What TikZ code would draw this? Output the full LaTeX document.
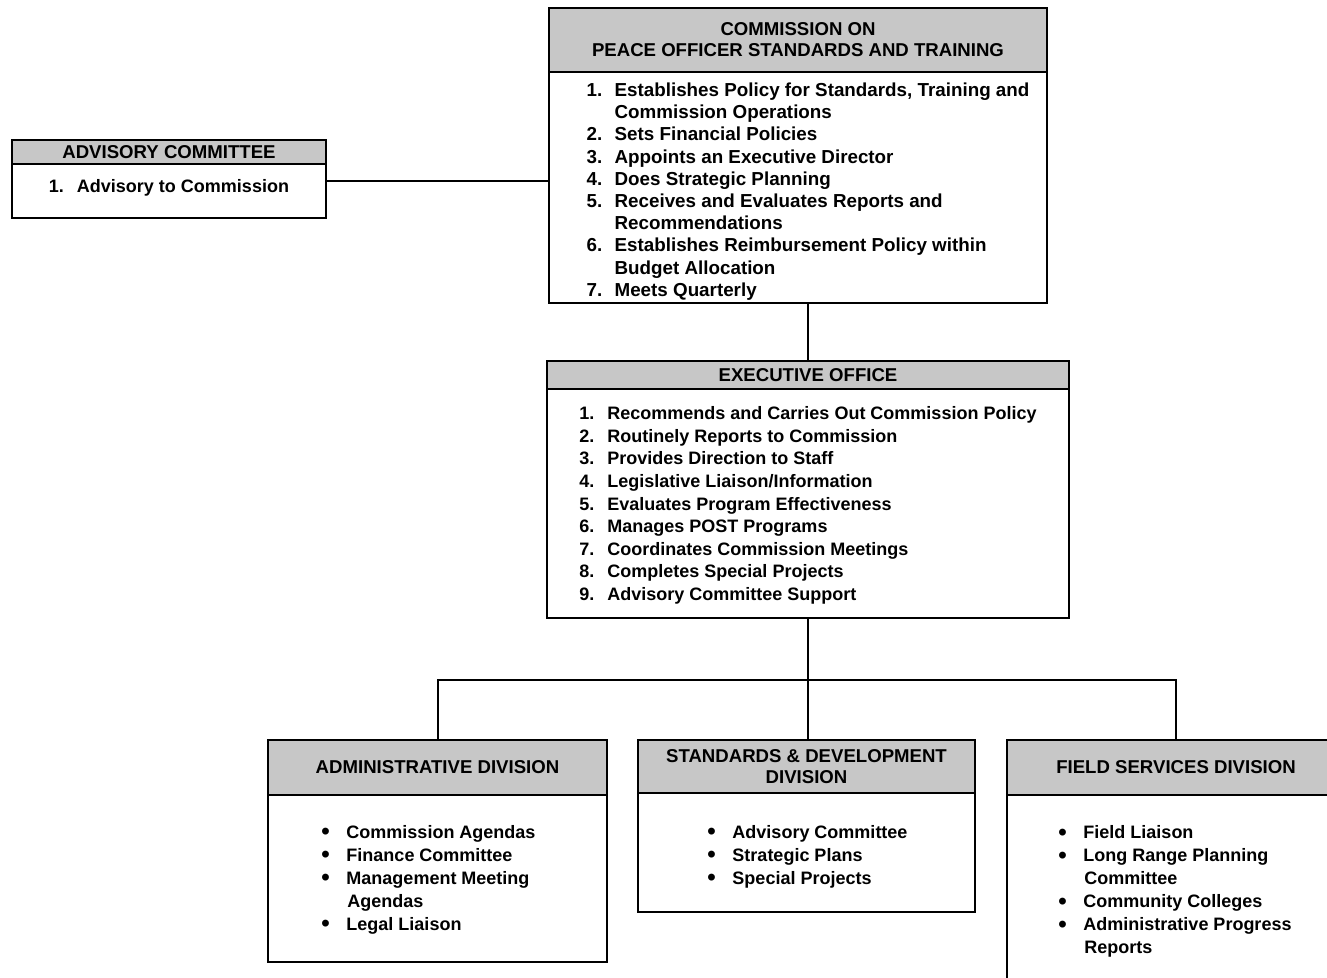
\documentclass[tikz,border=0pt]{standalone}
\usepackage{fontspec}
\setmainfont{Liberation Sans}
\usetikzlibrary{fit}
\tikzset{
  boxhead/.style = {
    draw, line width=1.3pt, fill=black!22, inner sep=0pt
  },
  boxbody/.style = {
    draw, line width=1.3pt, fill=white, inner sep=0pt
  },
  headtext/.style = {
    inner sep=0pt, align=center,
    font={\bfseries\fontsize{9.3}{10.5}\selectfont}
  },
  bodytext/.style = {
    inner sep=0pt, align=left,
    font={\bfseries\fontsize{9}{11.2}\selectfont}
  },
  link/.style = {
    line width=1pt
  },
}
\newcommand{\nb}[1]{\makebox[14pt][l]{#1}}
\newcommand{\cont}{\hspace*{14pt}}
\newcommand{\bl}{\makebox[13.5pt][l]{\hspace*{1pt}\raisebox{-0.7pt}{\fontsize{12}{11}\selectfont\textbullet}}}

\begin{document}
\begin{tikzpicture}[x=0.5pt,y=-0.5pt]
  \useasboundingbox (0,0) rectangle (1327,978);
  \clip (0,0) rectangle (1327,978);

  % commission
  \node[boxhead, fit={(549,8) (1047,72)}] (comhead) {};
  \node[boxbody, fit={(549,72) (1047,303)}] (combody) {};
  \node[headtext] (comtitle) at (comhead.center)
    {COMMISSION ON\\PEACE OFFICER STANDARDS AND TRAINING};
  \node[bodytext, font={\bfseries\fontsize{9.4}{11.1}\selectfont}] (comtext)
    at ([xshift=5pt,yshift=-2pt]combody.center)
    {\nb{1.}Establishes Policy for Standards, Training and\\
     \cont Commission Operations\\
     \nb{2.}Sets Financial Policies\\
     \nb{3.}Appoints an Executive Director\\
     \nb{4.}Does Strategic Planning\\
     \nb{5.}Receives and Evaluates Reports and\\
     \cont Recommendations\\
     \nb{6.}Establishes Reimbursement Policy within\\
     \cont Budget Allocation\\
     \nb{7.}Meets Quarterly};

  % advisory committee
  \node[boxhead, fit={(12,140) (326,164)}] (advhead) {};
  \node[boxbody, fit={(12,164) (326,218)}] (advbody) {};
  \node[headtext] (advtitle) at (advhead.center) {ADVISORY COMMITTEE};
  \node[bodytext] (advtext) at ([yshift=1.5pt]advbody.center)
    {\nb{1.}Advisory to Commission};

  % executive office
  \node[boxhead, fit={(547,361) (1069,389)}] (exechead) {};
  \node[boxbody, fit={(547,389) (1069,618)}] (execbody) {};
  \node[headtext] (exectitle) at (exechead.center) {EXECUTIVE OFFICE};
  \node[bodytext, font={\bfseries\fontsize{9}{11.3}\selectfont}] (exectext)
    at ([yshift=-1pt]execbody.center)
    {\nb{1.}Recommends and Carries Out Commission Policy\\
     \nb{2.}Routinely Reports to Commission\\
     \nb{3.}Provides Direction to Staff\\
     \nb{4.}Legislative Liaison/Information\\
     \nb{5.}Evaluates Program Effectiveness\\
     \nb{6.}Manages POST Programs\\
     \nb{7.}Coordinates Commission Meetings\\
     \nb{8.}Completes Special Projects\\
     \nb{9.}Advisory Committee Support};

  % divisions
  \node[boxhead, fit={(268,740) (607,795)}] (adminhead) {};
  \node[boxbody, fit={(268,795) (607,962)}] (adminbody) {};
  \node[headtext] (admintitle) at (adminhead.center) {ADMINISTRATIVE DIVISION};
  \node[bodytext, font={\bfseries\fontsize{9}{11.5}\selectfont}] (admintext)
    at ([xshift=-5pt,yshift=-0.5pt]adminbody.center)
    {\bl Commission Agendas\\
     \bl Finance Committee\\
     \bl Management Meeting\\
     \cont Agendas\\
     \bl Legal Liaison};

  \node[boxhead, fit={(638,740) (975,793)}] (stdhead) {};
  \node[boxbody, fit={(638,793) (975,912)}] (stdbody) {};
  \node[headtext] (stdtitle) at (stdhead.center)
    {STANDARDS \& DEVELOPMENT\\DIVISION};
  \node[bodytext, font={\bfseries\fontsize{9}{11.5}\selectfont}] (stdtext)
    at ([yshift=-2pt]stdbody.center)
    {\bl Advisory Committee\\
     \bl Strategic Plans\\
     \bl Special Projects};

  \node[boxhead, fit={(1007,740) (1345,795)}] (fieldhead) {};
  \node[boxbody, fit={(1007,795) (1345,990)}] (fieldbody) {};
  \node[headtext] (fieldtitle) at (fieldhead.center) {FIELD SERVICES DIVISION};
  \node[bodytext, font={\bfseries\fontsize{9}{11.5}\selectfont}] (fieldtext)
    at ([xshift=-1pt,yshift=0.5pt]fieldbody.center)
    {\bl Field Liaison\\
     \bl Long Range Planning\\
     \cont Committee\\
     \bl Community Colleges\\
     \bl Administrative Progress\\
     \cont Reports};

  % connectors
  \coordinate (bus) at (806,680);
  \draw[link] ([yshift=5pt]advbody.east) -- ([yshift=5pt]advbody.east -| combody.west);
  \draw[link] (exechead.north) -- (exechead.north |- combody.south);
  \draw[link] (execbody.south) -- (execbody.south |- stdhead.north);
  \draw[link] (adminhead.north) |- (bus) -| (fieldhead.north);

\end{tikzpicture}
\end{document}
